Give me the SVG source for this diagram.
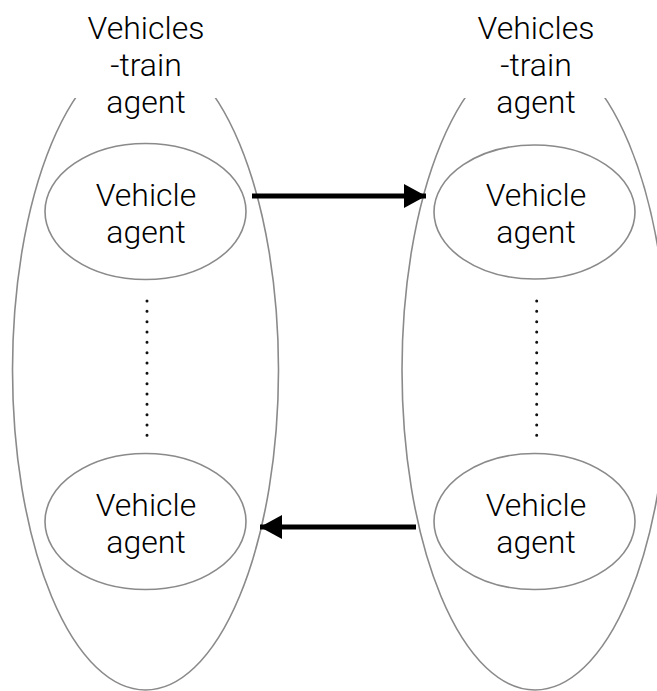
<svg xmlns="http://www.w3.org/2000/svg" width="657" height="691" viewBox="0 0 657 691">
<defs>
<style>
.outline{fill:none;stroke:#8a8a8a;stroke-width:1.6}
.lbl{font-family:Roboto,"Liberation Sans",sans-serif;font-weight:300;font-size:32px;fill:#000;text-anchor:middle}
.dots{stroke:#111;stroke-width:3;stroke-linecap:round;stroke-dasharray:0 10.33;fill:none}
.arrow{stroke:#000;stroke-width:5;fill:none}
</style>
<marker id="ah" markerWidth="22" markerHeight="24" refX="22" refY="12" orient="auto" markerUnits="userSpaceOnUse">
<path d="M0,0 L22,12 L0,24 Z" fill="#000"/>
</marker>
</defs>
<rect width="657" height="691" fill="#fff"/>
<g id="train-left">
<ellipse class="outline" cx="145.5" cy="370" rx="133" ry="320"/>
<rect x="60" y="0" width="172" height="98" fill="#fff"/>
<text class="lbl" x="146" y="39">Vehicles</text>
<text class="lbl" x="146" y="76">-train</text>
<text class="lbl" x="146" y="113">agent</text>
</g>
<g id="train-right">
<ellipse class="outline" cx="535" cy="370" rx="133" ry="320"/>
<rect x="450" y="0" width="172" height="98" fill="#fff"/>
<text class="lbl" x="536" y="39">Vehicles</text>
<text class="lbl" x="536" y="76">-train</text>
<text class="lbl" x="536" y="113">agent</text>
</g>
<g id="vehicle-left-top">
<ellipse class="outline" cx="145.5" cy="211.5" rx="100.5" ry="68"/>
<text class="lbl" x="146" y="206">Vehicle</text>
<text class="lbl" x="146" y="243">agent</text>
</g>
<g id="vehicle-left-bottom">
<ellipse class="outline" cx="145.5" cy="521.5" rx="100.5" ry="68"/>
<text class="lbl" x="146" y="516">Vehicle</text>
<text class="lbl" x="146" y="553">agent</text>
</g>
<g id="vehicle-right-top">
<ellipse class="outline" cx="534.5" cy="212" rx="100.5" ry="67"/>
<text class="lbl" x="536" y="206">Vehicle</text>
<text class="lbl" x="536" y="243">agent</text>
</g>
<g id="vehicle-right-bottom">
<ellipse class="outline" cx="534.5" cy="521.5" rx="100.5" ry="68"/>
<text class="lbl" x="536" y="516">Vehicle</text>
<text class="lbl" x="536" y="553">agent</text>
</g>
<g id="connectors">
<line class="dots" x1="147" y1="301" x2="147" y2="436"/>
<line class="dots" x1="536.7" y1="301" x2="536.7" y2="436"/>
<line class="arrow" x1="252" y1="196" x2="426" y2="196" marker-end="url(#ah)"/>
<line class="arrow" x1="416" y1="527" x2="260" y2="527" marker-end="url(#ah)"/>
</g>
</svg>
